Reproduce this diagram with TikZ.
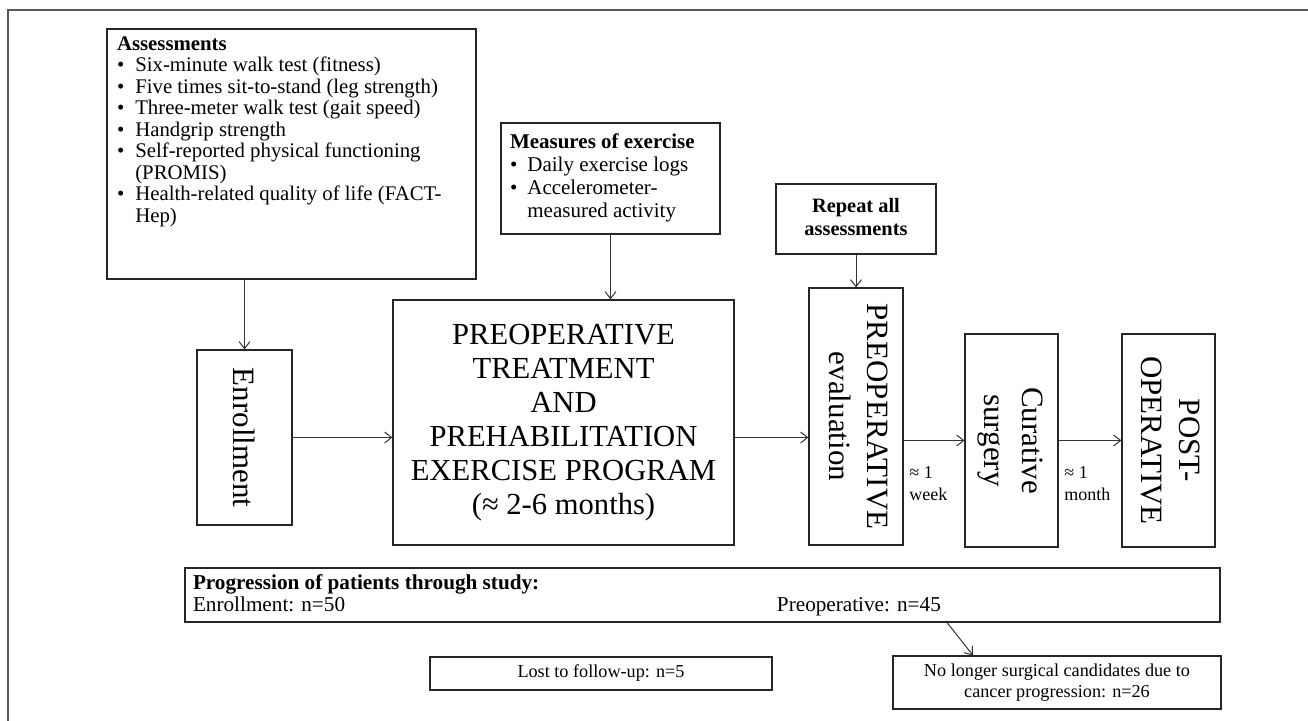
\documentclass[tikz,border=0pt]{standalone}
\usepackage{fontspec}
\setmainfont{Liberation Serif}
\usetikzlibrary{positioning, arrows.meta}

\begin{document}
\begin{tikzpicture}[
    x=0.5pt, y=-0.5pt,
    every node/.style={font=\fontsize{10.4}{10.75}\selectfont},
    box/.style={draw=black!85, line width=0.6pt, inner sep=0pt, align=center},
    stage/.style={box, font=\fontsize{15.5}{19}\selectfont},
    note/.style={inner sep=0pt, align=left, font=\fontsize{9}{11}\selectfont},
    flow/.style={draw=black!80, line width=0.5pt, -{Straight Barb[length=3.5pt,width=5.5pt]}},
  ]
  \useasboundingbox (0,0) rectangle (1308,721);
  \draw[black!65, line width=1pt] (8,721) -- (8,10) -- (1308,10);

  % measures taken before and during the program
  \node[box, minimum width=184.5pt, minimum height=125pt] (assess) at (291.5,154) {%
    \begin{minipage}[c][119pt][t]{174.5pt}
    \begin{tabular}{@{}l@{\hspace{5.5pt}}l@{}}
      \multicolumn{2}{@{}l@{}}{\textbf{Assessments}}\\
      \textbullet & Six-minute walk test (fitness)\\
      \textbullet & Five times sit-to-stand (leg strength)\\
      \textbullet & Three-meter walk test (gait speed)\\
      \textbullet & Handgrip strength\\
      \textbullet & Self-reported physical functioning\\
                  & (PROMIS)\\
      \textbullet & Health-related quality of life (FACT-\\
                  & Hep)
    \end{tabular}
    \end{minipage}};
  \node[box, minimum width=109.5pt, minimum height=55.5pt,
        font=\fontsize{10.5}{11.5}\selectfont] (measures) at (610.5,178.5) {%
    \begin{minipage}{100.5pt}
    \begin{tabular}{@{}l@{\hspace{5pt}}l@{}}
      \multicolumn{2}{@{}l@{}}{\textbf{Measures of exercise}}\\
      \textbullet & Daily exercise logs\\
      \textbullet & Accelerometer-\\
                  & measured activity
    \end{tabular}
    \end{minipage}};
  \node[box, minimum width=80pt, minimum height=35pt,
        font=\fontsize{10.2}{11.5}\bfseries] (repeat) at (856,219)
    {\raisebox{2pt}{\begin{tabular}{@{}c@{}}Repeat all\\assessments\end{tabular}}};

  % study timeline
  \node[stage, minimum width=47.5pt, minimum height=87.5pt] (enroll) at (244.5,437.5)
    {\rotatebox{-90}{Enrollment}};
  \node[box, minimum width=170.5pt, minimum height=122.5pt,
        font=\fontsize{15.3}{17}\selectfont] (treat) at (563.5,422.5)
    {PREOPERATIVE\\TREATMENT\\AND\\PREHABILITATION\\EXERCISE PROGRAM\\(≈ 2-6 months)};
  \node[stage, minimum width=47pt, minimum height=128.5pt] (eval) at (856,416.5)
    {\rotatebox{-90}{\begin{tabular}{@{}c@{}}PREOPERATIVE\\evaluation\end{tabular}}};
  \node[stage, minimum width=46.5pt, minimum height=106.5pt] (surg) at (1011.5,440.5)
    {\rotatebox{-90}{\begin{tabular}{@{}c@{}}Curative\\surgery\end{tabular}}};
  \node[stage, minimum width=46.5pt, minimum height=106.5pt] (post) at (1168.5,440.5)
    {\rotatebox{-90}{\begin{tabular}{@{}c@{}}POST-\\OPERATIVE\end{tabular}}};
  \node[note, anchor=west] (week) at (909,484) {≈ 1\\week};
  \node[note, anchor=west] (month) at (1064,484) {≈ 1\\month};

  % patient numbers
  \node[box, minimum width=517.5pt, minimum height=27pt,
        font=\fontsize{10.6}{11}\selectfont] (progress) at (702.5,595) {%
    \begin{minipage}{509.5pt}
      \textbf{Progression of patients through study:}\\
      \makebox[292pt][l]{Enrollment: n=50}Preoperative: n=45
    \end{minipage}};
  \node[box, minimum width=171pt, minimum height=16.5pt,
        font=\fontsize{9.1}{11}\selectfont] (lost) at (601,673.5) {Lost to follow-up: n=5};
  \node[box, minimum width=164pt, minimum height=26.5pt,
        font=\fontsize{9.1}{10.8}\selectfont] (nolonger) at (1057,682.5)
    {No longer surgical candidates due to\\cancer progression: n=26};

  \draw[flow] (enroll.north |- assess.south) -- (enroll.north);
  \draw[flow] (measures.south) -- (measures.south |- treat.north);
  \draw[flow] (repeat.south) -- (eval.north);
  \draw[flow] (enroll.east) -- (enroll.east -| treat.west);
  \draw[flow] (treat.east |- enroll.east) -- (eval.west |- enroll.east);
  \draw[flow] (eval.east |- surg.west) -- (surg.west);
  \draw[flow] (surg.east) -- (post.west);
  \draw[flow] ([xshift=122.25pt]progress.south) -- ([xshift=-42pt]nolonger.north);
\end{tikzpicture}
\end{document}
